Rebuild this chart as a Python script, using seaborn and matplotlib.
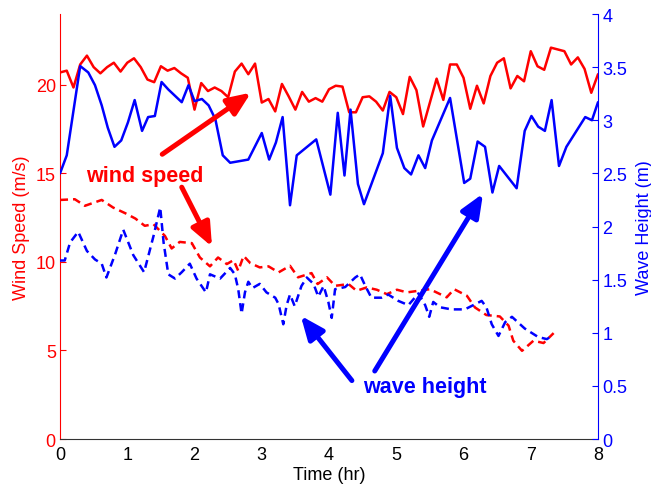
import numpy as np
import pandas as pd
import matplotlib
matplotlib.use("Agg")
import matplotlib.pyplot as plt
import seaborn as sns

# ---------------- data ----------------
wind_solid_t = [round(0.1 * i, 1) for i in range(81)]
wind_solid = [20.7, 20.8, 19.85, 21.15, 21.65, 21.0, 20.65, 21.0, 21.25, 20.75,
              21.25, 21.5, 21.0, 20.3, 20.15, 21.05, 20.8, 20.95, 20.65, 20.4,
              18.6, 20.1, 19.65, 19.85, 19.65, 19.3, 20.75, 21.2, 20.6, 21.2,
              19.0, 19.2, 18.5, 20.05, 19.35, 18.6, 19.6, 19.05, 19.25, 19.05,
              19.75, 19.95, 19.9, 18.45, 18.45, 19.3, 19.35, 19.05, 18.55, 19.6,
              19.3, 18.35, 20.45, 19.7, 17.65, 19.0, 20.35, 19.15, 21.15, 21.15,
              20.4, 18.65, 19.95, 18.95, 20.5, 21.25, 21.5, 19.8, 20.5, 20.2,
              21.9, 21.05, 20.85, 22.1, 22.0, 21.9, 21.15, 21.55, 20.9, 19.55, 20.6]

wave_solid_t = [0.0, 0.1, 0.3, 0.42, 0.52, 0.62, 0.71, 0.81, 0.91, 1.01, 1.11, 1.22,
                1.31, 1.41, 1.51, 1.61, 1.71, 1.81, 1.91, 2.0, 2.11, 2.21, 2.31, 2.42,
                2.53, 2.8, 3.0, 3.11, 3.21, 3.31, 3.42, 3.52, 3.81, 4.02, 4.13, 4.23,
                4.32, 4.43, 4.52, 4.8, 4.91, 5.01, 5.12, 5.22, 5.33, 5.43, 5.53, 5.8,
                6.01, 6.1, 6.21, 6.32, 6.43, 6.53, 6.79, 6.91, 7.01, 7.11, 7.21, 7.31,
                7.42, 7.53, 7.81, 7.91, 8.0]
wave_solid = [2.5, 2.67, 3.51, 3.45, 3.33, 3.14, 2.93, 2.75, 2.81, 2.98, 3.19, 2.9,
              3.03, 3.04, 3.36, 3.29, 3.23, 3.17, 3.33, 3.18, 3.2, 3.14, 3.01, 2.67,
              2.6, 2.63, 2.88, 2.63, 2.79, 3.03, 2.2, 2.67, 2.82, 2.3, 3.07, 2.48,
              3.1, 2.4, 2.21, 2.69, 3.23, 2.74, 2.55, 2.49, 2.67, 2.55, 2.81, 3.21,
              2.41, 2.45, 2.8, 2.75, 2.32, 2.57, 2.36, 2.9, 3.04, 2.94, 2.9, 3.19,
              2.57, 2.75, 3.03, 3.0, 3.17]

wind_dash_t = [0.0, 0.22, 0.37, 0.62, 0.79, 0.97, 1.12, 1.26, 1.39, 1.56, 1.66, 1.78,
               1.96, 2.08, 2.23, 2.35, 2.48, 2.58, 2.65, 2.73, 2.83, 2.97, 3.1, 3.25,
               3.42, 3.54, 3.74, 3.83, 3.97, 4.09, 4.29, 4.41, 4.56, 4.71, 4.86, 5.01,
               5.16, 5.33, 5.5, 5.75, 5.86, 6.05, 6.17, 6.34, 6.54, 6.67, 6.74, 6.87,
               7.04, 7.19, 7.34]
wind_dash = [13.5, 13.54, 13.17, 13.5, 13.07, 12.75, 12.45, 12.04, 12.13, 11.47, 10.76,
             11.13, 11.06, 10.25, 9.75, 10.25, 9.88, 10.1, 9.5, 10.34, 9.93, 9.69, 9.75,
             9.41, 9.78, 9.13, 9.37, 8.75, 9.13, 8.65, 8.75, 8.37, 8.56, 8.43, 8.18,
             8.43, 8.28, 8.37, 8.46, 8.0, 8.46, 8.09, 7.43, 7.0, 6.92, 6.4, 5.55, 4.98,
             5.55, 5.42, 5.98]

wave_dash_t = [0.0, 0.07, 0.15, 0.27, 0.4, 0.52, 0.62, 0.69, 0.82, 0.94, 1.09, 1.25,
               1.39, 1.49, 1.54, 1.61, 1.71, 1.81, 1.93, 2.03, 2.17, 2.23, 2.38, 2.53,
               2.6, 2.65, 2.7, 2.75, 2.8, 2.86, 2.97, 3.07, 3.2, 3.25, 3.32, 3.37, 3.42,
               3.49, 3.59, 3.67, 3.77, 3.84, 3.92, 3.99, 4.04, 4.09, 4.24, 4.39, 4.46,
               4.54, 4.63, 4.78, 4.88, 5.03, 5.18, 5.33, 5.43, 5.49, 5.55, 5.65, 5.82,
               6.02, 6.27, 6.34, 6.42, 6.52, 6.62, 6.72, 6.91, 7.11, 7.24, 7.31]
wave_dash = [1.68, 1.68, 1.85, 1.95, 1.77, 1.69, 1.65, 1.52, 1.74, 1.97, 1.73, 1.57,
             1.91, 2.18, 1.85, 1.55, 1.51, 1.57, 1.65, 1.51, 1.38, 1.55, 1.51, 1.61,
             1.55, 1.41, 1.18, 1.38, 1.48, 1.42, 1.46, 1.38, 1.33, 1.27, 1.08, 1.26, 1.36,
             1.25, 1.44, 1.52, 1.46, 1.34, 1.44, 1.29, 1.14, 1.41, 1.43, 1.52, 1.55,
             1.44, 1.33, 1.33, 1.36, 1.30, 1.26, 1.37, 1.26, 1.15, 1.29, 1.24, 1.22,
             1.22, 1.30, 1.24, 1.08, 0.97, 1.10, 1.15, 1.04, 0.96, 0.94, 0.97]

x_ticks = [0, 1, 2, 3, 4, 5, 6, 7, 8]
left_ticks = [0, 5, 10, 15, 20]
right_ticks = [0, 0.5, 1, 1.5, 2, 2.5, 3, 3.5, 4]
right_tick_labels = ['0', '0.5', '1', '1.5', '2', '2.5', '3', '3.5', '4']

# ---------------- style ----------------
sns.set_style("white")
plt.rcParams['font.family'] = ['Liberation Sans', 'DejaVu Sans']

RED = '#ff0000'
BLUE = '#0000ff'

fig = plt.figure(figsize=(6.51, 4.89), dpi=100)
ax = fig.add_axes([0.0922, 0.1002, 0.8264, 0.8691])
ax2 = ax.twinx()

lw = 1.8
dash = (0, (3.2, 2.0))
sns.lineplot(x=wind_solid_t, y=wind_solid, ax=ax, color=RED, lw=lw, sort=False, estimator=None)
sns.lineplot(x=wind_dash_t, y=wind_dash, ax=ax, color=RED, lw=lw, sort=False,
             estimator=None, linestyle=dash)
sns.lineplot(x=wave_solid_t, y=wave_solid, ax=ax2, color=BLUE, lw=lw, sort=False, estimator=None)
sns.lineplot(x=wave_dash_t, y=wave_dash, ax=ax2, color=BLUE, lw=lw, sort=False,
             estimator=None, linestyle=dash)

ax.set_xlim(0, 8)
ax.set_ylim(0, 24)
ax2.set_ylim(0, 4)
ax.set_xticks(x_ticks)
ax.set_yticks(left_ticks)
ax2.set_yticks(right_ticks)
ax2.set_yticklabels(right_tick_labels)

for a in (ax, ax2):
    a.spines['top'].set_visible(False)
ax.spines['right'].set_visible(False)
ax2.spines['left'].set_visible(False)
ax2.spines['bottom'].set_visible(False)
ax.spines['left'].set_color(RED)
ax.spines['left'].set_linewidth(0.8)
ax2.spines['right'].set_color(BLUE)
ax2.spines['right'].set_linewidth(0.8)
ax.spines['bottom'].set_color('#333333')
ax.spines['bottom'].set_linewidth(0.8)

ax.tick_params(axis='x', direction='in', length=4, width=0.8, colors='#333333',
               labelcolor='black', labelsize=13, pad=5)
ax.tick_params(axis='y', direction='in', length=4, width=0.8, colors=RED,
               labelcolor=RED, labelsize=13, pad=3)
ax2.tick_params(axis='y', direction='in', length=4, width=0.8, colors=BLUE,
                labelcolor=BLUE, labelsize=13, pad=3)

ax.set_xlabel('Time (hr)', fontsize=13, color='black', labelpad=2)
ax.set_ylabel('Wind Speed (m/s)', fontsize=13, color=RED, labelpad=4)
ax2.set_ylabel('Wave Height (m)', fontsize=13, color=BLUE, labelpad=6)

# ---------------- annotations ----------------
def arrow(a, tail, head, color):
    a.annotate('', xy=head, xytext=tail,
               arrowprops=dict(arrowstyle='-|>,head_length=1.0,head_width=0.42',
                               lw=3.6, color=color, shrinkA=0, shrinkB=0,
                               mutation_scale=14))

arrow(ax2, (1.52, 2.68), (2.84, 3.26), RED)
arrow(ax2, (1.81, 2.37), (2.26, 1.81), RED)
arrow(ax2, (4.34, 0.55), (3.58, 1.16), BLUE)
arrow(ax2, (4.68, 0.64), (6.29, 2.31), BLUE)

ax2.text(1.26, 2.48, 'wind speed', color=RED, fontsize=15.5, fontweight='bold',
         ha='center', va='center')
ax2.text(5.42, 0.49, 'wave height', color=BLUE, fontsize=15.5, fontweight='bold',
         ha='center', va='center')

fig.savefig('out.png', dpi=100)
